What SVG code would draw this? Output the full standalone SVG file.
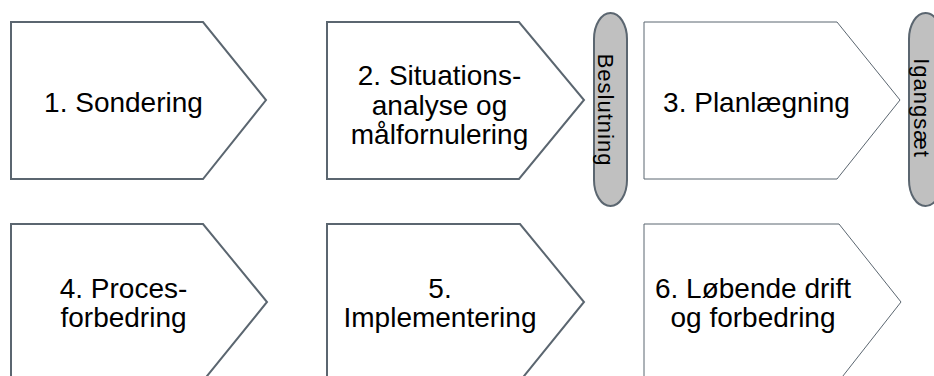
<svg xmlns="http://www.w3.org/2000/svg" width="934" height="376" viewBox="0 0 934 376">
  <style>
    .step { fill: #ffffff; stroke: #5b6670; stroke-width: 2; stroke-linejoin: miter; }
    .thin { stroke-width: 1; }
    .pill { fill: #c0c0c0; stroke: #5b6670; stroke-width: 2; }
    .lbl { font-family: "Liberation Sans", Arial, sans-serif; font-size: 28px; fill: #000000; text-anchor: middle; }
    .vlbl { font-family: "Liberation Sans", Arial, sans-serif; font-size: 22px; letter-spacing: 1px; fill: #000000; text-anchor: middle; }
  </style>
  <rect x="0" y="0" width="934" height="376" fill="#ffffff"/>
  <g id="connectors"></g>
  <g id="node1">
    <polygon class="step" points="11,22 203,22 266,100 203,179 11,179"/>
    <text class="lbl" x="123.5" y="112">1. Sondering</text>
  </g>
  <g id="node2">
    <polygon class="step" points="327,22 519,22 584,100 519,179 327,179"/>
    <text class="lbl" x="439.5" y="85">2. Situations-</text>
    <text class="lbl" x="439.5" y="114.5">analyse og</text>
    <text class="lbl" x="439.5" y="144">målfornulering</text>
  </g>
  <g id="decision">
    <rect class="pill" x="594" y="13" width="33" height="193" rx="16.5" ry="26"/>
    <text class="vlbl" transform="translate(598,110) rotate(90)">Beslutning</text>
  </g>
  <g id="node3">
    <polygon class="step thin" points="644,22 837,22 900,100 837,179 644,179"/>
    <text class="lbl" x="756.5" y="112">3. Planlægning</text>
  </g>
  <g id="launch">
    <rect class="pill" x="909" y="13" width="33" height="193" rx="16.5" ry="26"/>
    <text class="vlbl" transform="translate(914,108) rotate(90)">Igangsæt</text>
  </g>
  <g id="node4">
    <polygon class="step" points="11,224 203,224 267,302 203,381 11,381"/>
    <text class="lbl" x="123.5" y="298">4. Proces-</text>
    <text class="lbl" x="123.5" y="327">forbedring</text>
  </g>
  <g id="node5">
    <polygon class="step" points="327,224 520,224 584,302 520,381 327,381"/>
    <text class="lbl" x="440" y="298">5.</text>
    <text class="lbl" x="440" y="327">Implementering</text>
  </g>
  <g id="node6">
    <polygon class="step thin" points="644,224 839,224 901,302 839,381 644,381"/>
    <text class="lbl" x="753" y="298">6. Løbende drift</text>
    <text class="lbl" x="753" y="327">og forbedring</text>
  </g>
</svg>
